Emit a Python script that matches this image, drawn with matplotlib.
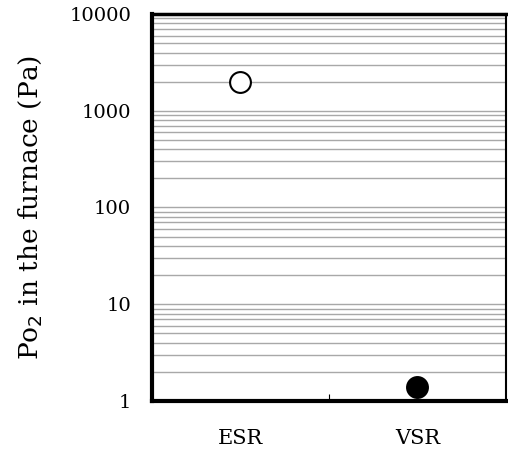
import numpy as np
import matplotlib.pyplot as plt
from matplotlib.ticker import LogLocator, FixedLocator, NullFormatter

# datos
categories = ['ESR', 'VSR']
po2_values = [2000, 1.4]
filled = [False, True]

plt.rcParams['font.family'] = ['DejaVu Serif']

fig = plt.figure(figsize=(5.08, 4.54), dpi=100)
ax = fig.add_axes([0.299, 0.117, 0.697, 0.852])

x_pos = np.array([0.25, 0.75])
for x, v, f in zip(x_pos, po2_values, filled):
    ax.plot(x, v, 'o', markersize=15, markeredgewidth=1.5,
            markeredgecolor='black', markerfacecolor='black' if f else 'white',
            zorder=5, clip_on=False)

ax.set_yscale('log')
ax.set_ylim(1, 10000)
ax.set_xlim(0, 1)

ax.yaxis.set_minor_locator(LogLocator(base=10, subs=np.arange(2, 10), numticks=50))
ax.yaxis.set_minor_formatter(NullFormatter())
ax.set_yticks([1, 10, 100, 1000, 10000])
ax.set_yticklabels(['1', '10', '100', '1000', '10000'])
ax.grid(True, which='both', axis='y', color='#a8a8a8', linewidth=1.0)
ax.set_axisbelow(True)

ax.xaxis.set_major_locator(FixedLocator(x_pos))
ax.set_xticklabels(categories)
ax.xaxis.set_minor_locator(FixedLocator([0.5]))
ax.tick_params(axis='x', which='major', length=0, pad=20, labelsize=15)
ax.tick_params(axis='x', which='minor', direction='in', length=5, width=0.8)
ax.tick_params(axis='y', which='both', length=0, pad=15, labelsize=14)

ax.set_ylabel('Po$_2$ in the furnace (Pa)', fontsize=19, labelpad=18)

ax.spines['left'].set_linewidth(3)
ax.spines['bottom'].set_linewidth(3)
ax.spines['top'].set_linewidth(2.5)
ax.spines['right'].set_linewidth(1.5)

plt.savefig('out.png', dpi=100)
